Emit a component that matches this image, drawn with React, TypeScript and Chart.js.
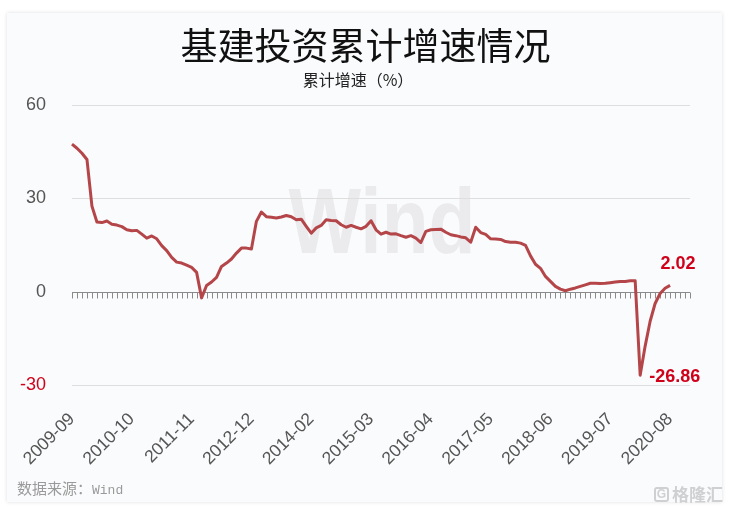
import React, { useEffect, useRef } from 'react';
import { Chart, registerables } from 'chart.js';

Chart.register(...registerables);

// Monthly categories 2009-09 .. 2020-12 (January is merged into February in the source data)
const categories: string[] = (() => {
  const out: string[] = [];
  for (let y = 2009; y <= 2020; y++) {
    for (let m = 2; m <= 12; m++) {
      if (y === 2009 && m < 9) continue;
      out.push(`${y}-${String(m).padStart(2, '0')}`);
    }
  }
  return out;
})();

const tickLabels: string[] = [
  '2009-09', '2010-10', '2011-11', '2012-12', '2014-02', '2015-03',
  '2016-04', '2017-05', '2018-06', '2019-07', '2020-08',
];

// 基建投资累计增速 (%), 2009-09 .. 2020-08
const growth: number[] = [
  47.4, 46.1, 44.5, 42.5,
  27.5, 22.4, 22.2, 22.7, 21.7, 21.4, 20.9, 19.9, 19.6, 19.7, 18.5,
  17.2, 17.9, 17.0, 14.8, 13.2, 11.0, 9.5, 9.2, 8.5, 7.8, 6.2,
  -2.0, 2.0, 3.1, 4.6, 8.1, 9.2, 10.5, 12.4, 14.0, 14.0, 13.7,
  22.6, 25.6, 24.1, 23.9, 23.7, 24.0, 24.5, 24.1, 23.1, 23.3, 21.0,
  18.8, 20.5, 21.3, 23.1, 22.9, 22.8, 21.5, 20.7, 21.3, 20.7, 20.2,
  21.0, 22.8, 19.9, 18.5, 19.1, 18.5, 18.6, 18.0, 17.5, 18.0, 17.2,
  15.8, 19.4, 19.9, 20.0, 20.1, 19.1, 18.3, 18.0, 17.6, 17.3, 15.9,
  20.7, 19.0, 18.4, 17.0, 16.9, 16.8, 16.1, 15.9, 15.9, 15.6, 14.9,
  11.5, 8.8, 7.5, 4.9, 3.3, 1.7, 0.8, 0.3, 0.8, 1.2, 1.7,
  2.2, 2.7, 2.7, 2.6, 2.7, 2.9, 3.1, 3.3, 3.3, 3.5, 3.5,
  -26.86, -17.5, -9.5, -3.8, -0.6, 1.1, 2.02,
];

const yTicks: number[] = [-30, 0, 30, 60];
const labelledPoints: number[] = [114, 120];

const LINE_COLOR = '#b4464a';
const RED = '#d0021b';

const watermarkPlugin = {
  id: 'watermark',
  beforeDraw(chart: any) {
    const { ctx, chartArea } = chart;
    ctx.save();
    ctx.font = 'bold 92px "Liberation Sans", Arial, sans-serif';
    ctx.fillStyle = '#ebebed';
    ctx.textBaseline = 'alphabetic';
    const text = 'Wind';
    const w = ctx.measureText(text).width;
    const targetW = 187;
    const cx = (chartArea.left + chartArea.right) / 2 + 1;
    ctx.translate(cx - targetW / 2, 253);
    ctx.scale(targetW / w, 1);
    ctx.fillText(text, 0, 0);
    ctx.restore();
  },
};

const zeroAxisPlugin = {
  id: 'zeroAxis',
  beforeDatasetsDraw(chart: any) {
    const { ctx, chartArea, scales } = chart;
    const x = scales.x;
    const y0 = Math.round(scales.y.getPixelForValue(0)) + 0.5;
    ctx.save();
    ctx.strokeStyle = '#8a8a8a';
    ctx.lineWidth = 1;
    ctx.beginPath();
    ctx.moveTo(chartArea.left, y0);
    ctx.lineTo(chartArea.right, y0);
    for (let i = 0; i < categories.length; i++) {
      const px = Math.round(x.getPixelForValue(i)) + 0.5;
      ctx.moveTo(px, y0);
      ctx.lineTo(px, y0 + 6);
    }
    ctx.stroke();
    ctx.restore();
  },
};

const valueLabelPlugin = {
  id: 'valueLabels',
  afterDatasetsDraw(chart: any) {
    const { ctx, scales } = chart;
    ctx.save();
    ctx.font = 'bold 18px "Liberation Sans", Arial, sans-serif';
    ctx.fillStyle = RED;
    ctx.textBaseline = 'middle';
    labelledPoints.forEach((idx) => {
      const v = growth[idx];
      const px = scales.x.getPixelForValue(idx);
      const py = scales.y.getPixelForValue(v);
      const text = v.toFixed(2);
      if (idx === growth.length - 1) {
        ctx.textAlign = 'center';
        ctx.fillText(text, px + 8, py - 21);
      } else {
        ctx.textAlign = 'left';
        ctx.fillText(text, px + 9, py + 2);
      }
    });
    ctx.restore();
  },
};

export default function App() {
  const canvasRef = useRef<HTMLCanvasElement | null>(null);

  useEffect(() => {
    const canvas = canvasRef.current;
    if (!canvas) return;
    const chart = new Chart(canvas, {
      type: 'line',
      data: {
        labels: categories,
        datasets: [
          {
            data: growth,
            borderColor: LINE_COLOR,
            borderWidth: 3,
            pointRadius: 0,
            tension: 0,
            fill: false,
            borderJoinStyle: 'round',
          },
        ],
      },
      options: {
        responsive: false,
        animation: false,
        devicePixelRatio: 1,
        layout: { padding: { left: 0, right: 39, top: 105, bottom: 27 } },
        plugins: {
          legend: { display: false },
          tooltip: { enabled: false },
          title: { display: false },
        },
        scales: {
          x: {
            type: 'category',
            offset: false,
            grid: { display: false, drawTicks: false },
            border: { display: false },
            ticks: {
              autoSkip: false,
              maxRotation: 45,
              minRotation: 45,
              padding: 24,
              color: '#555',
              font: { size: 17.5, family: '"Liberation Sans", Arial, sans-serif' },
              callback: (_v: any, idx: number) =>
                tickLabels.includes(categories[idx]) ? categories[idx] : '',
            },
            afterFit: (scale: any) => {
              scale.height = 100;
            },
          },
          y: {
            min: yTicks[0],
            max: yTicks[yTicks.length - 1],
            afterBuildTicks: (scale: any) => {
              scale.ticks = yTicks.map((v) => ({ value: v }));
            },
            grid: {
              drawTicks: false,
              color: (ctx: any) => (ctx.tick && ctx.tick.value === 0 ? 'rgba(0,0,0,0)' : '#dedede'),
            },
            border: { display: false },
            ticks: {
              padding: 26,
              color: (ctx: any) => (ctx.tick && ctx.tick.value < 0 ? RED : '#555'),
              font: { size: 18, family: '"Liberation Sans", Arial, sans-serif' },
            },
            afterFit: (scale: any) => {
              scale.width = 72;
            },
          },
        },
      },
      plugins: [watermarkPlugin, zeroAxisPlugin, valueLabelPlugin],
    } as any);
    return () => chart.destroy();
  }, []);

  return (
    <div
      style={{
        position: 'fixed',
        left: 0,
        top: 0,
        width: 729,
        height: 512,
        background: '#ffffff',
        overflow: 'hidden',
      }}
    >
      <div
        style={{
          position: 'absolute',
          left: 7,
          top: 13,
          width: 715,
          height: 489,
          background: '#fafbfc',
          boxShadow: '0 0 4px rgba(0,0,0,0.13)',
        }}
      />
      <canvas
        ref={canvasRef}
        width={729}
        height={512}
        style={{ position: 'absolute', left: 0, top: 0, width: 729, height: 512 }}
      />
      <div
        style={{
          position: 'absolute',
          left: 0,
          top: 22,
          width: 731,
          textAlign: 'center',
          font: '37px/44px "Noto Sans CJK SC", sans-serif',
          color: '#111',
        }}
      >
        基建投资累计增速情况
      </div>
      <div
        style={{
          position: 'absolute',
          left: 0,
          top: 68,
          width: 716,
          textAlign: 'center',
          font: '16px/22px "Noto Sans CJK SC", sans-serif',
          color: '#222',
        }}
      >
        累计增速（%）
      </div>
      <div
        style={{
          position: 'absolute',
          left: 17,
          top: 478,
          font: '15px/20px "Noto Sans CJK SC", sans-serif',
          color: '#9a9a9a',
          whiteSpace: 'nowrap',
        }}
      >
        数据来源：<span style={{ font: '13px/20px "Liberation Mono", monospace' }}>Wind</span>
      </div>
      <div
        style={{
          position: 'absolute',
          left: 654,
          top: 484,
          display: 'flex',
          alignItems: 'center',
          gap: 3,
          color: '#cfd0d2',
          whiteSpace: 'nowrap',
        }}
      >
        <span
          style={{
            display: 'inline-block',
            width: 15,
            height: 15,
            border: '2px solid #cfd0d2',
            borderRadius: 3,
            font: 'bold 12px/15px "Liberation Sans", sans-serif',
            textAlign: 'center',
            boxSizing: 'border-box',
            lineHeight: '11px',
          }}
        >
          G
        </span>
        <span style={{ font: 'bold 17px/20px "Noto Sans CJK SC", sans-serif' }}>格隆汇</span>
      </div>
    </div>
  );
}
